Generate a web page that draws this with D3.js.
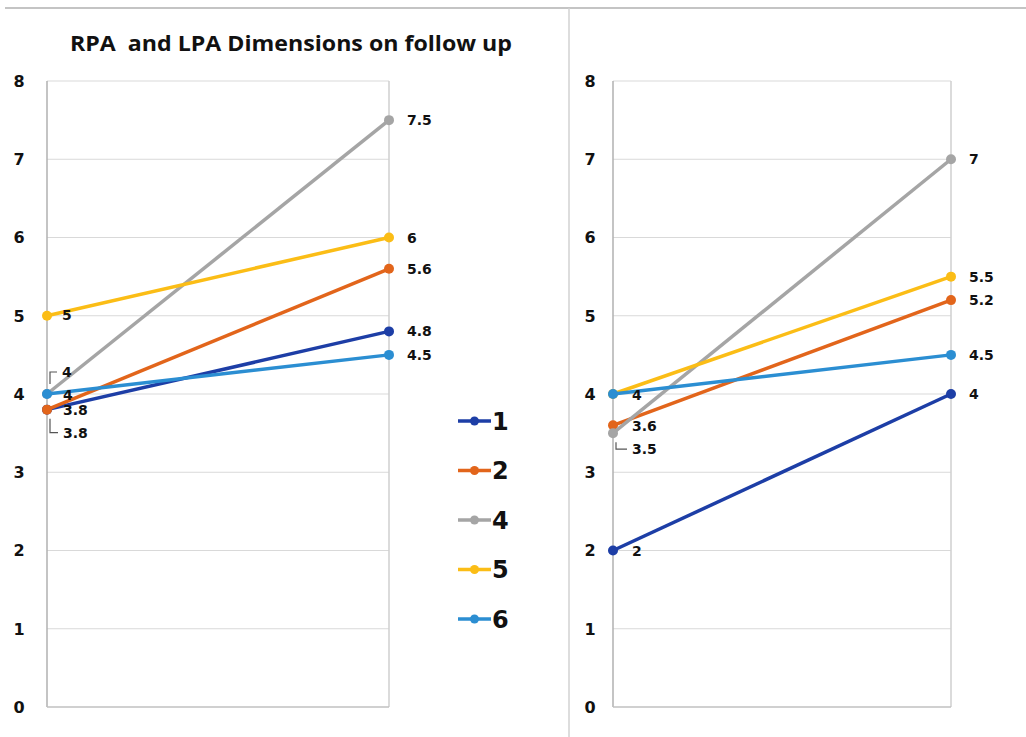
<!DOCTYPE html>
<html>
<head>
<meta charset="utf-8">
<script src="https://cdn.jsdelivr.net/npm/d3@7"></script>
<style>
  body { margin: 0; background: #fff; }
  svg { display: block; }
</style>
</head>
<body>
<script>
(function() {

    var width = 1026;
    var height = 737;

    // data
    const categories = ["baseline", "follow up"];
    const seriesNames = ["1", "2", "4", "5", "6"];
    const seriesColors = ["#1d3ea6", "#e2651b", "#a5a5a5", "#fbbd16", "#2b8ed2"];
    const rpaValues = [[3.8, 4.8], [3.8, 5.6], [4, 7.5], [5, 6], [4, 4.5]];
    const lpaValues = [[2, 4], [3.6, 5.2], [3.5, 7], [4, 5.5], [4, 4.5]];
    const yTicks = [0, 1, 2, 3, 4, 5, 6, 7, 8];
    const title = "RPA  and LPA Dimensions on follow up";

    // start-point label placement (series index, dx, dy, leader)
    const rpaStartLabels = [
        {s: 3, dx: 15, dy: -1, leader: false},
        {s: 2, dx: 15, dy: -22, leader: true},
        {s: 4, dx: 16, dy: 1, leader: false},
        {s: 1, dx: 16, dy: 0, leader: false},
        {s: 0, dx: 16, dy: 23, leader: true}
    ];
    const lpaStartLabels = [
        {s: 4, dx: 19, dy: 1, leader: false},
        {s: 1, dx: 19, dy: 1, leader: false},
        {s: 2, dx: 19, dy: 16, leader: true},
        {s: 0, dx: 19, dy: 0, leader: false}
    ];

    const svg = d3.select("body")
      .append("svg")
      .attr("width", width)
      .attr("height", height);

    // frame lines of the slide
    svg.append("line")
        .attr("x1", 5).attr("x2", width).attr("y1", 8).attr("y2", 8)
        .attr("stroke", "#c4c4c4").attr("stroke-width", 2);
    svg.append("line")
        .attr("x1", 569).attr("x2", 569).attr("y1", 8).attr("y2", height)
        .attr("stroke", "#d2d2d2").attr("stroke-width", 1.5);

    svg.append("text")
        .attr("x", 291).attr("y", 51)
        .attr("text-anchor", "middle")
        .attr("textLength", 442)
        .attr("lengthAdjust", "spacingAndGlyphs")
        .style("white-space", "pre")
        .style("font-family", "'Open Sans', sans-serif")
        .style("font-weight", "bold")
        .style("font-size", "22px")
        .style("fill", "#111")
        .text(title);

    const y = d3.scaleLinear().domain([0, 8]).range([707, 81]);

    function drawPanel(x0, x1, values, startLabels, tickX) {
        const x = d3.scalePoint().domain(categories).range([x0, x1]);
        const g = svg.append("g");

        // gridlines
        g.selectAll("line.grid")
            .data(yTicks.filter(d => d > 0))
            .join("line")
            .attr("class", "grid")
            .attr("x1", x0).attr("x2", x1)
            .attr("y1", d => y(d)).attr("y2", d => y(d))
            .attr("stroke", "#d9d9d9").attr("stroke-width", 1.2);

        // frame
        g.append("line").attr("x1", x0).attr("x2", x0).attr("y1", y(8)).attr("y2", y(0))
            .attr("stroke", "#b0b0b0").attr("stroke-width", 1.5);
        g.append("line").attr("x1", x1).attr("x2", x1).attr("y1", y(8)).attr("y2", y(0))
            .attr("stroke", "#cfcfcf").attr("stroke-width", 1.5);
        g.append("line").attr("x1", x0).attr("x2", x1).attr("y1", y(0)).attr("y2", y(0))
            .attr("stroke", "#c0c0c0").attr("stroke-width", 1.5);

        // tick labels
        g.selectAll("text.tick")
            .data(yTicks)
            .join("text")
            .attr("class", "tick")
            .attr("x", tickX)
            .attr("y", d => y(d))
            .attr("dy", "0.36em")
            .attr("text-anchor", "middle")
            .style("font-family", "'DejaVu Sans', sans-serif")
            .style("font-weight", "bold")
            .style("font-size", "16px")
            .style("fill", "#111")
            .text(d => d);

        const line = d3.line()
            .x((d, i) => x(categories[i]))
            .y(d => y(d));

        values.forEach(function(vals, si) {
            g.append("path")
                .datum(vals)
                .attr("d", line)
                .attr("fill", "none")
                .attr("stroke", seriesColors[si])
                .attr("stroke-width", 3.5);
            g.selectAll("circle.s" + si)
                .data(vals)
                .join("circle")
                .attr("class", "s" + si)
                .attr("cx", (d, i) => x(categories[i]))
                .attr("cy", d => y(d))
                .attr("r", 5)
                .attr("fill", seriesColors[si]);
        });

        const labelStyle = function(sel) {
            sel.style("font-family", "'DejaVu Sans', sans-serif")
                .style("font-weight", "bold")
                .style("font-size", "14px")
                .style("fill", "#111");
        };

        // end labels
        g.selectAll("text.end")
            .data(values)
            .join("text")
            .attr("class", "end")
            .attr("x", x(categories[1]) + 18)
            .attr("y", d => y(d[1]))
            .attr("dy", "0.36em")
            .call(labelStyle)
            .text(d => d[1]);

        // start labels
        startLabels.forEach(function(l) {
            const v = values[l.s][0];
            const px = x(categories[0]);
            const py = y(v) + l.dy;
            if (l.leader) {
                const up = l.dy < 0;
                const lx = px + 3;
                const ly0 = up ? y(v) - 10 : y(v) + 9;
                g.append("path")
                    .attr("d", "M" + lx + "," + ly0 + "V" + py + "H" + (px + l.dx - 5))
                    .attr("fill", "none")
                    .attr("stroke", "#555")
                    .attr("stroke-width", 1.2);
            }
            g.append("text")
                .attr("x", px + l.dx)
                .attr("y", py)
                .attr("dy", "0.36em")
                .call(labelStyle)
                .text(v);
        });
    }

    drawPanel(47, 389, rpaValues, rpaStartLabels, 19);
    drawPanel(613, 951, lpaValues, lpaStartLabels, 590);

    // legend
    const legend = svg.append("g");
    const ly = d3.scalePoint().domain(seriesNames).range([421, 619]);
    seriesNames.forEach(function(n, i) {
        const yy = ly(n);
        legend.append("line")
            .attr("x1", 458).attr("x2", 491).attr("y1", yy).attr("y2", yy)
            .attr("stroke", seriesColors[i]).attr("stroke-width", 3.5);
        legend.append("circle")
            .attr("cx", 474.5).attr("cy", yy).attr("r", 4.5)
            .attr("fill", seriesColors[i]);
        legend.append("text")
            .attr("x", 492).attr("y", yy)
            .attr("dy", "0.36em")
            .style("font-family", "'DejaVu Sans', sans-serif")
            .style("font-weight", "bold")
            .style("font-size", "24px")
            .style("fill", "#111")
            .text(n);
    });

})();
</script>
</body>
</html>
